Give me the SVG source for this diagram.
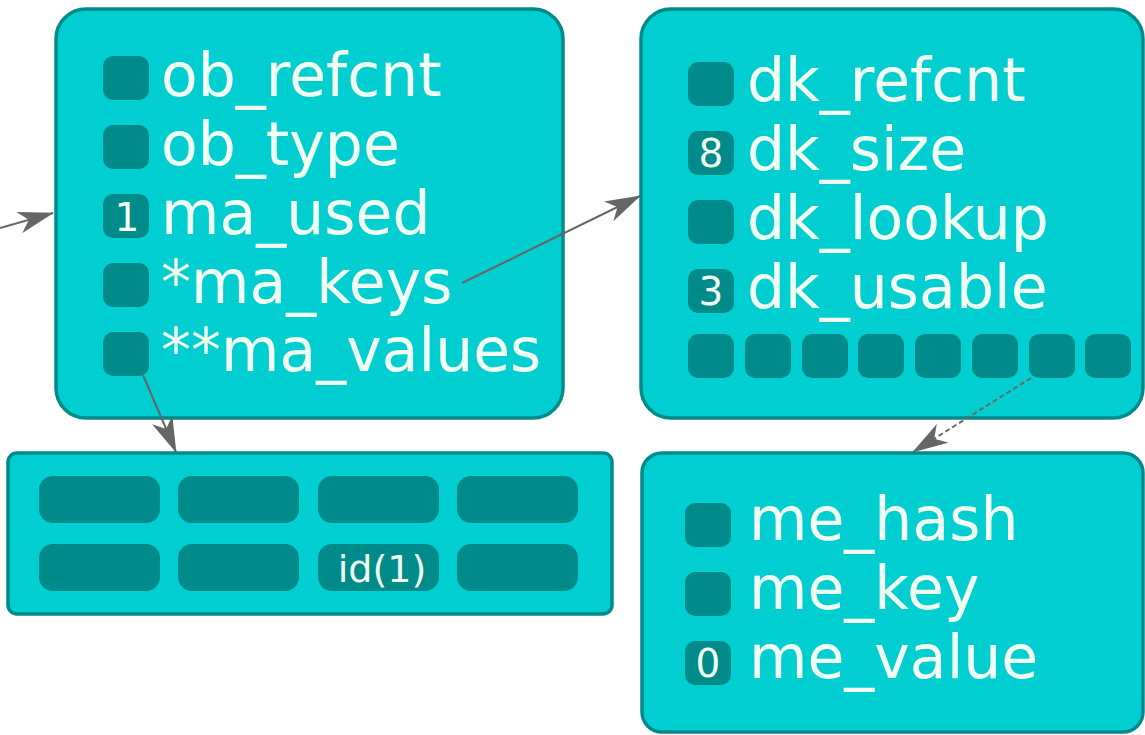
<svg xmlns="http://www.w3.org/2000/svg" width="1145" height="735" viewBox="0 0 1145 735">
<style>
.box{fill:#00CED1;stroke:#008B8B;stroke-width:3.5}
.sq{fill:#008B8B}
.lbl{font-family:"DejaVu Sans",Verdana,sans-serif;font-size:60px;fill:#F0FFF0}
.num{font-family:"DejaVu Sans",sans-serif;font-size:39px;fill:#F0FFF0;text-anchor:middle}
.small{font-family:"DejaVu Sans",sans-serif;font-size:38px;fill:#F0FFF0;text-anchor:middle}
.edge{fill:none;stroke:#666666;stroke-width:2}
.dash{stroke:#706464;stroke-dasharray:5,3}
</style>
<defs>
<marker id="arr" viewBox="0 0 36 22" refX="35" refY="11" markerWidth="36" markerHeight="22" markerUnits="userSpaceOnUse" orient="auto">
<path d="M0,0 L36,11 L0,22 L10,11 z" fill="#666666"/>
</marker>
</defs>
<g id="dict">
<rect class="box" x="56" y="9" width="507" height="409" rx="30"/>
<rect class="sq" x="103" y="56" width="46" height="44" rx="10"/>
<text class="lbl" x="161" y="96">ob_refcnt</text>
<rect class="sq" x="103" y="125" width="46" height="44" rx="10"/>
<text class="lbl" x="161" y="165">ob_type</text>
<rect class="sq" x="103" y="194" width="46" height="44" rx="10"/>
<text class="num" x="127" y="231">1</text>
<text class="lbl" x="161" y="234">ma_used</text>
<rect class="sq" x="103" y="263" width="46" height="44" rx="10"/>
<text class="lbl" x="161" y="303">*ma_keys</text>
<rect class="sq" x="103" y="332" width="46" height="44" rx="10"/>
<text class="lbl" x="161" y="371">**ma_values</text>
</g>
<g id="keys">
<rect class="box" x="641" y="9" width="502" height="409" rx="30"/>
<rect class="sq" x="688" y="62" width="46" height="44" rx="10"/>
<text class="lbl" x="747" y="101">dk_refcnt</text>
<rect class="sq" x="688" y="131" width="46" height="44" rx="10"/>
<text class="num" x="711" y="167">8</text>
<text class="lbl" x="747" y="170">dk_size</text>
<rect class="sq" x="688" y="200" width="46" height="44" rx="10"/>
<text class="lbl" x="747" y="239">dk_lookup</text>
<rect class="sq" x="688" y="269" width="46" height="44" rx="10"/>
<text class="num" x="711" y="305">3</text>
<text class="lbl" x="747" y="308">dk_usable</text>
<rect class="sq" x="688" y="334" width="46" height="44" rx="10"/>
<rect class="sq" x="745" y="334" width="46" height="44" rx="10"/>
<rect class="sq" x="802" y="334" width="46" height="44" rx="10"/>
<rect class="sq" x="858" y="334" width="46" height="44" rx="10"/>
<rect class="sq" x="915" y="334" width="46" height="44" rx="10"/>
<rect class="sq" x="972" y="334" width="46" height="44" rx="10"/>
<rect class="sq" x="1029" y="334" width="46" height="44" rx="10"/>
<rect class="sq" x="1085" y="334" width="46" height="44" rx="10"/>
</g>
<g id="values">
<rect class="box" x="8" y="453" width="604" height="161" rx="9"/>
<rect class="sq" x="39" y="476" width="121" height="47" rx="14"/>
<rect class="sq" x="178" y="476" width="121" height="47" rx="14"/>
<rect class="sq" x="318" y="476" width="121" height="47" rx="14"/>
<rect class="sq" x="457" y="476" width="121" height="47" rx="14"/>
<rect class="sq" x="39" y="544" width="121" height="47" rx="14"/>
<rect class="sq" x="178" y="544" width="121" height="47" rx="14"/>
<rect class="sq" x="318" y="544" width="121" height="47" rx="14"/>
<text class="small" x="382" y="582">id(1)</text>
<rect class="sq" x="457" y="544" width="121" height="47" rx="14"/>
</g>
<g id="entry">
<rect class="box" x="642" y="453" width="501" height="279" rx="20"/>
<rect class="sq" x="685" y="503" width="46" height="44" rx="10"/>
<text class="lbl" x="749" y="540">me_hash</text>
<rect class="sq" x="685" y="572" width="46" height="44" rx="10"/>
<text class="lbl" x="749" y="609">me_key</text>
<rect class="sq" x="685" y="641" width="46" height="44" rx="10"/>
<text class="num" x="708" y="677">0</text>
<text class="lbl" x="749" y="678">me_value</text>
</g>
<g id="connectors">
<line class="edge" x1="0" y1="228" x2="53" y2="213" marker-end="url(#arr)"/>
<line class="edge" x1="462" y1="283" x2="640" y2="196" marker-end="url(#arr)"/>
<line class="edge" x1="143" y1="375" x2="176" y2="452" marker-end="url(#arr)"/>
<line class="edge dash" x1="1031" y1="378" x2="913" y2="452" marker-end="url(#arr)"/>
</g>
</svg>
